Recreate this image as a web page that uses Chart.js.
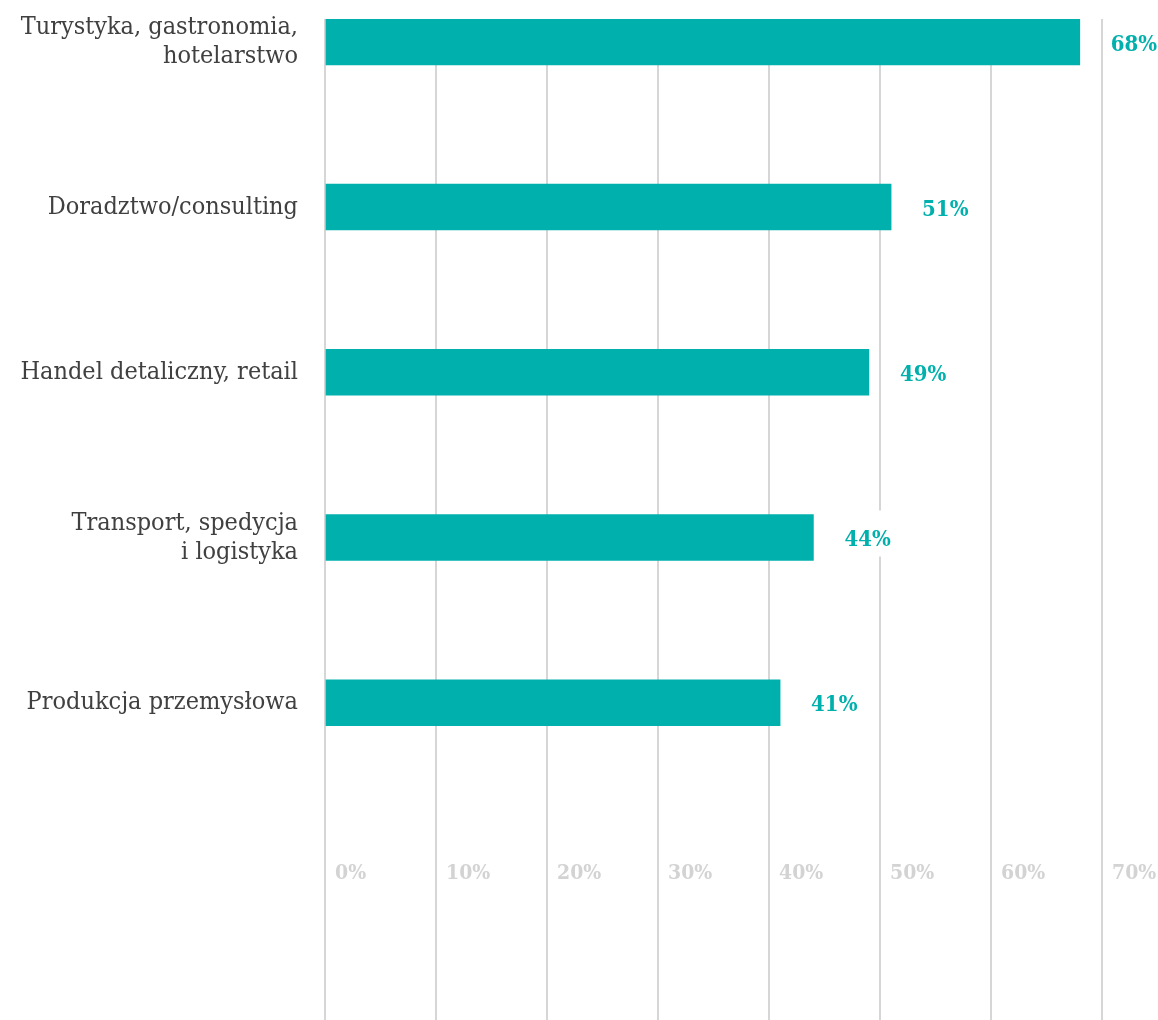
<!DOCTYPE html>
<html lang="pl">
<head>
<meta charset="utf-8">
<title>Branże</title>
<script src="https://cdn.jsdelivr.net/npm/chart.js@4.4.1/dist/chart.umd.min.js"></script>
<style>
  html, body { margin: 0; padding: 0; background: #fff; }
  #wrap { position: relative; width: 1158px; height: 1020px; }
</style>
</head>
<body>
<div id="wrap"><canvas id="chart"></canvas></div>
<script>
/* ─── Data ───────────────────────────────────────────────────────────────── */
const categories = [
  'Turystyka, gastronomia,\nhotelarstwo',
  'Doradztwo/consulting',
  'Handel detaliczny, retail',
  'Transport, spedycja\ni logistyka',
  'Produkcja przemysłowa'
];
const shares = [68, 51, 49, 44, 41];
const xTicks = [0, 10, 20, 30, 40, 50, 60, 70];

/* ─── Style ──────────────────────────────────────────────────────────────── */
const TEAL  = '#00b0ad';
const GRID  = '#d6d6d6';
const SERIF = "'DejaVu Serif Condensed', 'DejaVu Serif', serif";

/* value labels at the end of each bar, on a white patch over the grid */
const valueLabels = {
  id: 'valueLabels',
  afterDatasetsDraw(chart) {
    const { ctx } = chart;
    const meta = chart.getDatasetMeta(0);
    ctx.save();
    ctx.font = `bold 22px ${SERIF}`;
    ctx.textBaseline = 'middle';
    ctx.textAlign = 'left';
    meta.data.forEach((bar, i) => {
      const txt = shares[i] + '%';
      const x = bar.x + 31;
      const w = ctx.measureText(txt).width;
      ctx.fillStyle = '#fff';
      ctx.fillRect(x - 6, bar.y - 27, w + 12, 46);
      ctx.fillStyle = TEAL;
      ctx.fillText(txt, x, bar.y + 3);
    });
    ctx.restore();
  }
};

/* ─── Chart ──────────────────────────────────────────────────────────────── */
new Chart(document.getElementById('chart'), {
  type: 'bar',
  data: {
    datasets: [{
      data: shares.map((v, i) => ({ x: v, y: i })),
      backgroundColor: TEAL,
      borderWidth: 0,
      barThickness: 46
    }]
  },
  options: {
    indexAxis: 'y',
    responsive: true,
    maintainAspectRatio: false,
    animation: false,
    layout: { padding: { top: 19, right: 56, bottom: 0, left: 0 } },
    plugins: {
      legend: { display: false },
      tooltip: { enabled: false }
    },
    scales: {
      x: {
        type: 'linear',
        min: 0,
        max: 70,
        position: { y: 4.96 },
        afterBuildTicks: s => { s.ticks = xTicks.map(v => ({ value: v })); },
        grid: { color: GRID, lineWidth: 2, drawTicks: false },
        border: { display: false },
        ticks: {
          align: 'start',
          labelOffset: 10,
          padding: 0,
          color: '#d3d3d3',
          font: { family: SERIF, size: 21, weight: 'bold' },
          callback: v => v + '%'
        }
      },
      y: {
        type: 'linear',
        reverse: true,
        offset: false,
        min: -0.138,
        max: 5.92,
        afterBuildTicks: s => { s.ticks = categories.map((_, i) => ({ value: i })); },
        afterFit: s => { s.width = 325; s.paddingTop = 0; s.paddingBottom = 0; },
        grid: { display: false, drawTicks: false },
        border: { display: false },
        ticks: {
          padding: 27,
          color: '#404040',
          font: { family: SERIF, size: 25, lineHeight: 1.16 },
          callback: v => (categories[v] || '').split('\n')
        }
      }
    }
  },
  plugins: [valueLabels]
});
</script>
</body>
</html>
